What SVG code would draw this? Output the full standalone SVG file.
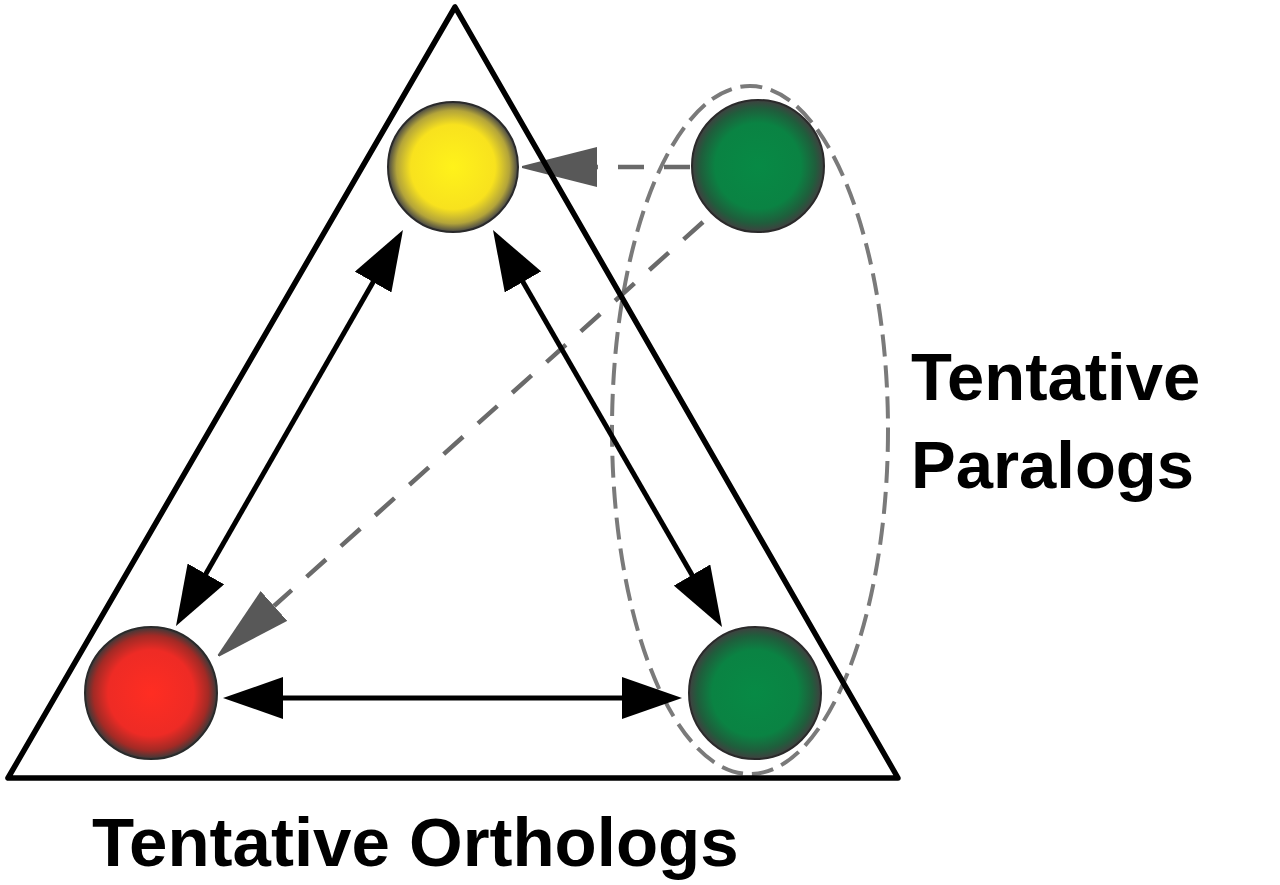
<svg xmlns="http://www.w3.org/2000/svg" width="1280" height="885" viewBox="0 0 1280 885">
  <style>
    .lbl { font-family: "Liberation Sans", Arial, sans-serif; font-weight: bold; fill: #000; }
    .ortho { stroke: #000; stroke-width: 5; fill: none; marker-start: url(#ah); marker-end: url(#ah); }
    .para { stroke: #6a6a6a; stroke-width: 4.5; fill: none; stroke-dasharray: 26 20; marker-end: url(#gh); }
    .node { stroke: #2a2a2a; stroke-width: 2; }
  </style>
  <defs>
    <marker id="ah" markerUnits="userSpaceOnUse" viewBox="0 0 60 42" markerWidth="60" markerHeight="42" refX="48" refY="21" orient="auto-start-reverse">
      <path d="M0,0 L60,21 L0,42 Z" fill="#000"/>
    </marker>
    <marker id="gh" markerUnits="userSpaceOnUse" viewBox="0 0 75 40" markerWidth="75" markerHeight="40" refX="0" refY="20" orient="auto">
      <path d="M0,0 L75,19 L75,21 L0,40 Z" fill="#585858"/>
    </marker>
    <radialGradient id="gY" cx="50%" cy="50%" r="50%">
      <stop offset="0" stop-color="#fff21a"/>
      <stop offset="0.65" stop-color="#f8e21e"/>
      <stop offset="0.87" stop-color="#b3a43a"/>
      <stop offset="1" stop-color="#454545"/>
    </radialGradient>
    <radialGradient id="gR" cx="50%" cy="50%" r="50%">
      <stop offset="0" stop-color="#ff2d22"/>
      <stop offset="0.65" stop-color="#ee2b25"/>
      <stop offset="0.87" stop-color="#a32a25"/>
      <stop offset="1" stop-color="#3a3a3a"/>
    </radialGradient>
    <radialGradient id="gG" cx="50%" cy="50%" r="50%">
      <stop offset="0" stop-color="#078a45"/>
      <stop offset="0.65" stop-color="#0a8343"/>
      <stop offset="0.87" stop-color="#1f5e3c"/>
      <stop offset="1" stop-color="#404040"/>
    </radialGradient>
  </defs>

  <rect width="1280" height="885" fill="#fff"/>

  <g id="paralog-group">
    <ellipse cx="750" cy="430" rx="138" ry="344" fill="none" stroke="#7a7a7a" stroke-width="4" stroke-dasharray="22 9"/>
  </g>

  <g id="connectors">
    <line class="para" x1="690" y1="167" x2="597" y2="167"/>
    <line class="para" x1="703" y1="222" x2="274" y2="606"/>
    <line class="ortho" x1="397" y1="240.4" x2="182" y2="615.6"/>
    <line class="ortho" x1="499" y1="240.4" x2="716" y2="616.6"/>
    <line class="ortho" x1="235" y1="698" x2="670" y2="698"/>
  </g>

  <g id="triangle">
    <polygon points="455,7 8,778 898,778" fill="none" stroke="#000" stroke-width="5.5" stroke-linejoin="round"/>
  </g>

  <g id="node-yellow">
    <circle class="node" cx="453" cy="167" r="65" fill="url(#gY)"/>
  </g>
  <g id="node-green-top">
    <circle class="node" cx="758" cy="166" r="66" fill="url(#gG)"/>
  </g>
  <g id="node-red">
    <circle class="node" cx="151" cy="693" r="66" fill="url(#gR)"/>
  </g>
  <g id="node-green-bottom">
    <circle class="node" cx="755" cy="693" r="66" fill="url(#gG)"/>
  </g>

  <g id="labels">
    <text class="lbl" x="92" y="866" font-size="69">Tentative Orthologs</text>
    <text class="lbl" x="911" y="400" font-size="67">Tentative</text>
    <text class="lbl" x="911" y="488" font-size="67">Paralogs</text>
  </g>
</svg>
